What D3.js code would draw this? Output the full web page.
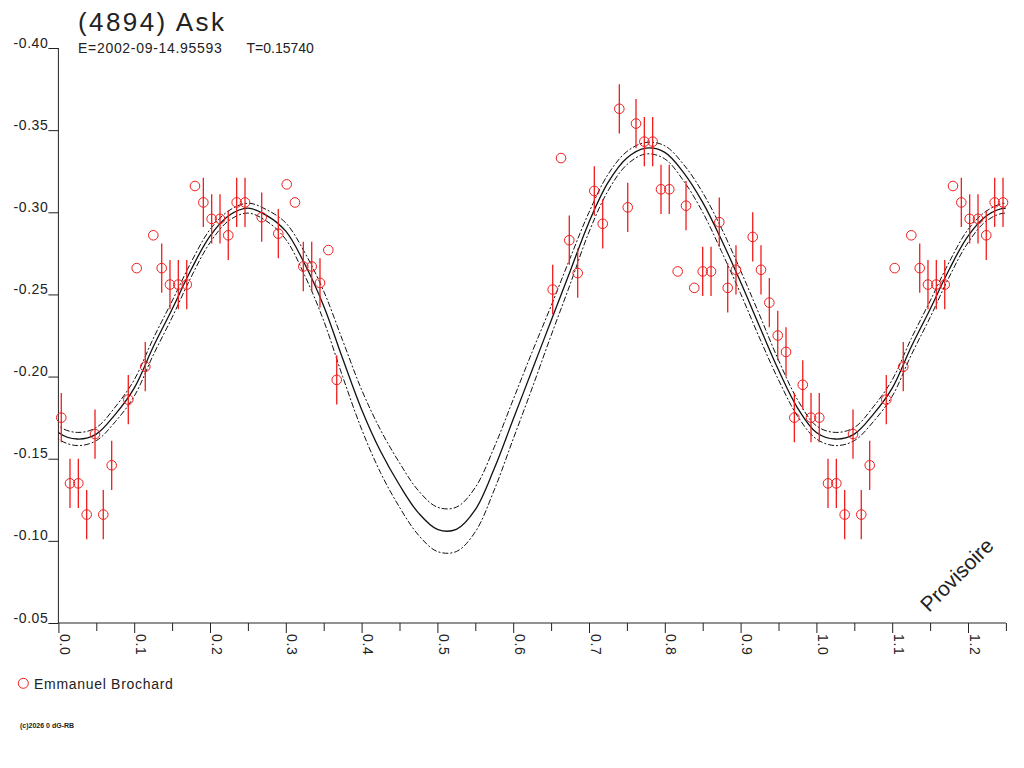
<!DOCTYPE html>
<html>
<head>
<meta charset="utf-8">
<script src="https://cdn.jsdelivr.net/npm/d3@7"></script>
<style>
  html, body { margin: 0; padding: 0; background: #fff; }
  svg { display: block; }
  text { font-family: "Liberation Sans", Arial, sans-serif; fill: #222; }
</style>
</head>
<body>
<svg id="chart" width="1024" height="768"></svg>
<script>
// ---------- data ----------
const titleText = "(4894) Ask";
const epochText = "E=2002-09-14.95593";
const periodText = "T=0.15740";
const observer = "Emmanuel Brochard";
const copyrightText = "(c)2026 0 dG-RB";
const watermark = "Provisoire";

const xTicks = [0.0, 0.1, 0.2, 0.3, 0.4, 0.5, 0.6, 0.7, 0.8, 0.9, 1.0, 1.1, 1.2];
const xMinorTicks = [0.05, 0.15, 0.25, 0.35, 0.45, 0.55, 0.65, 0.75, 0.85, 0.95, 1.05, 1.15, 1.25];
const yTicks = [-0.40, -0.35, -0.30, -0.25, -0.20, -0.15, -0.10, -0.05];

// observations (phase 0..1), magnitude, error (0 = no bar)
const obsPhase = [0.0038,0.0153,0.0263,0.0373,0.0483,0.0592,0.0703,0.0922,0.1033,0.1146,
  0.1252,0.1363,0.1472,0.1582,0.1693,0.1802,0.1912,0.2022,0.2132,0.2241,
  0.2352,0.2462,0.2682,0.2901,0.3012,0.3121,0.3231,0.3342,0.3451,0.3561,
  0.3672,0.6521,0.6631,0.6740,0.6851,0.7070,0.7181,0.7400,0.7511,0.7620,
  0.7730,0.7840,0.7950,0.8059,0.8170,0.8280,0.8389,0.8500,0.8610,0.8719,
  0.8830,0.8939,0.9160,0.9269,0.9379,0.9490,0.9599,0.9709,0.9820,0.9929];
const obsMag = [-0.175,-0.135,-0.135,-0.116,-0.165,-0.116,-0.146,-0.186,-0.266,-0.206,
  -0.286,-0.266,-0.256,-0.256,-0.256,-0.316,-0.306,-0.296,-0.296,-0.286,
  -0.306,-0.306,-0.297,-0.287,-0.317,-0.306,-0.267,-0.267,-0.257,-0.277,
  -0.198,-0.253,-0.333,-0.283,-0.263,-0.313,-0.293,-0.363,-0.303,-0.354,
  -0.343,-0.343,-0.314,-0.314,-0.264,-0.304,-0.254,-0.264,-0.264,-0.294,
  -0.254,-0.265,-0.285,-0.265,-0.245,-0.225,-0.215,-0.175,-0.195,-0.175];
const obsErr = [0.015,0.015,0.015,0.015,0.015,0.015,0.015,0.015,0,0.015,
  0,0.015,0.015,0.015,0.015,0,0.015,0.015,0.015,0.015,
  0.015,0.015,0.015,0.015,0,0,0.015,0.015,0.015,0,
  0.015,0.015,0,0.015,0.015,0.015,0.015,0.015,0.015,0.015,
  0.015,0.015,0.015,0.015,0,0.015,0,0.015,0.015,0.015,
  0.015,0.015,0.015,0.015,0.015,0.015,0.015,0.015,0.015,0.015];

// fitted curve (phase 0..1), with half-width of the envelope
const fitPhase = [0.000,0.025,0.050,0.075,0.100,0.125,0.150,0.175,0.200,0.225,
  0.250,0.275,0.300,0.325,0.350,0.375,0.400,0.425,0.450,0.475,
  0.500,0.525,0.550,0.575,0.600,0.625,0.650,0.675,0.700,0.725,
  0.750,0.775,0.800,0.825,0.850,0.875,0.900,0.925,0.950,0.975];
const fitMag = [-0.166,-0.162,-0.165,-0.177,-0.193,-0.218,-0.241,-0.265,-0.2855,-0.298,
  -0.3025,-0.298,-0.2885,-0.2685,-0.243,-0.211,-0.180,-0.1545,-0.134,-0.117,
  -0.107,-0.107,-0.119,-0.144,-0.174,-0.204,-0.234,-0.264,-0.294,-0.318,
  -0.333,-0.339,-0.3365,-0.324,-0.306,-0.283,-0.2575,-0.2305,-0.204,-0.181];
const fitHalf = [0.004,0.004,0.004,0.0045,0.005,0.005,0.005,0.0045,0.004,0.003,
  0.003,0.0035,0.005,0.007,0.009,0.011,0.012,0.013,0.0135,0.0135,
  0.0135,0.0135,0.0135,0.013,0.012,0.011,0.009,0.008,0.006,0.005,
  0.004,0.0035,0.004,0.005,0.006,0.007,0.007,0.007,0.006,0.005];

// ---------- layout ----------
const svg = d3.select("#chart");
const x = d3.scaleLinear().domain([0, 1.25]).range([58.4, 1005.9]);
const y = d3.scaleLinear().domain([-0.40, -0.05]).range([48, 623]);
const ink = "#222";
const red = "#f01c1c";
const fontFam = '"Liberation Sans", Arial, sans-serif';

svg.append("defs").append("clipPath").attr("id", "plotclip")
  .append("rect").attr("x", x(0)).attr("y", 0).attr("width", x(1.25) - x(0)).attr("height", 640);

// ---------- axes ----------
const yAxis = d3.axisLeft(y).tickValues(yTicks).tickSize(10).tickPadding(0)
  .tickFormat(d => d.toFixed(2));
const gy = svg.append("g").attr("transform", `translate(${x(0)},0)`).call(yAxis);
gy.select(".domain").attr("stroke", ink).attr("d", `M0,${y(-0.40)}V${y(-0.05)}`);
gy.selectAll(".tick line").attr("stroke", ink);
gy.selectAll(".tick text").attr("font-size", 14).attr("letter-spacing", 0.6)
  .attr("font-family", fontFam).attr("fill", ink)
  .attr("dy", "-1").attr("x", -10).attr("text-anchor", "end");

const xAxis = d3.axisBottom(x).tickValues(xTicks).tickSize(10).tickFormat(d => d.toFixed(1));
const gx = svg.append("g").attr("transform", `translate(0,${y(-0.05)})`).call(xAxis);
gx.select(".domain").attr("stroke", ink).attr("d", `M${x(0)},0H${x(1.25)}`);
gx.selectAll(".tick line").attr("stroke", ink);
gx.selectAll(".tick text")
  .attr("font-size", 14).attr("letter-spacing", 0.6)
  .attr("font-family", fontFam).attr("fill", ink)
  .attr("text-anchor", "start").attr("dy", 0).attr("y", 0)
  .attr("transform", "translate(1,11) rotate(90)");

const xMinor = d3.axisBottom(x).tickValues(xMinorTicks).tickSize(8).tickFormat("");
const gm = svg.append("g").attr("transform", `translate(0,${y(-0.05)})`).call(xMinor);
gm.select(".domain").remove();
gm.selectAll(".tick line").attr("stroke", ink);

// ---------- fitted curve + envelope ----------
function extended(valFn) {
  const pts = [];
  for (let k = -1; k <= 1; k++) {
    fitPhase.forEach((p, i) => pts.push([p + k, valFn(i)]));
  }
  return pts.filter(d => d[0] >= -0.1 && d[0] <= 1.35);
}
const line = d3.line().x(d => x(d[0])).y(d => y(d[1])).curve(d3.curveCatmullRom.alpha(0.5));
const plot = svg.append("g").attr("clip-path", "url(#plotclip)");

plot.append("path").datum(extended(i => fitMag[i] - fitHalf[i]))
  .attr("d", line).attr("fill", "none").attr("stroke", "#111").attr("stroke-width", 1)
  .attr("stroke-dasharray", "6,2,2,2");
plot.append("path").datum(extended(i => fitMag[i] + fitHalf[i]))
  .attr("d", line).attr("fill", "none").attr("stroke", "#111").attr("stroke-width", 1)
  .attr("stroke-dasharray", "6,2,2,2");
plot.append("path").datum(extended(i => fitMag[i]))
  .attr("d", line).attr("fill", "none").attr("stroke", "#111").attr("stroke-width", 1.3);

// ---------- observations ----------
const obs = [];
obsPhase.forEach((p, i) => {
  [0, 1].forEach(k => {
    const ph = p + k;
    if (ph <= 1.25) obs.push({ ph, m: obsMag[i], e: obsErr[i] });
  });
});
const gObs = svg.append("g");
gObs.selectAll("line.err").data(obs.filter(d => d.e > 0)).join("line")
  .attr("class", "err")
  .attr("x1", d => x(d.ph)).attr("x2", d => x(d.ph))
  .attr("y1", d => y(d.m - d.e)).attr("y2", d => y(d.m + d.e))
  .attr("stroke", red).attr("stroke-width", 1.3);
gObs.selectAll("circle").data(obs).join("circle")
  .attr("cx", d => x(d.ph)).attr("cy", d => y(d.m)).attr("r", 4.8)
  .attr("fill", "none").attr("stroke", red).attr("stroke-width", 1);

// ---------- texts ----------
svg.append("text").attr("x", 78).attr("y", 31).attr("font-size", 26)
  .attr("letter-spacing", 2.4).text(titleText);
const sub = svg.append("text").attr("y", 53).attr("font-size", 14);
sub.append("tspan").attr("x", 78).attr("letter-spacing", 0.7).text(epochText);
sub.append("tspan").attr("x", 246.5).attr("letter-spacing", 0).text(periodText);

svg.append("circle").attr("cx", 23.3).attr("cy", 683.3).attr("r", 5)
  .attr("fill", "none").attr("stroke", red).attr("stroke-width", 1);
svg.append("text").attr("x", 34).attr("y", 688.5).attr("font-size", 14)
  .attr("letter-spacing", 0.7).text(observer);

svg.append("text").attr("x", 20).attr("y", 727.5).attr("font-size", 7)
  .attr("font-weight", "bold").text(copyrightText);

svg.append("text").attr("transform", "translate(929,613) rotate(-45)")
  .attr("font-size", 21).text(watermark);
</script>
</body>
</html>
